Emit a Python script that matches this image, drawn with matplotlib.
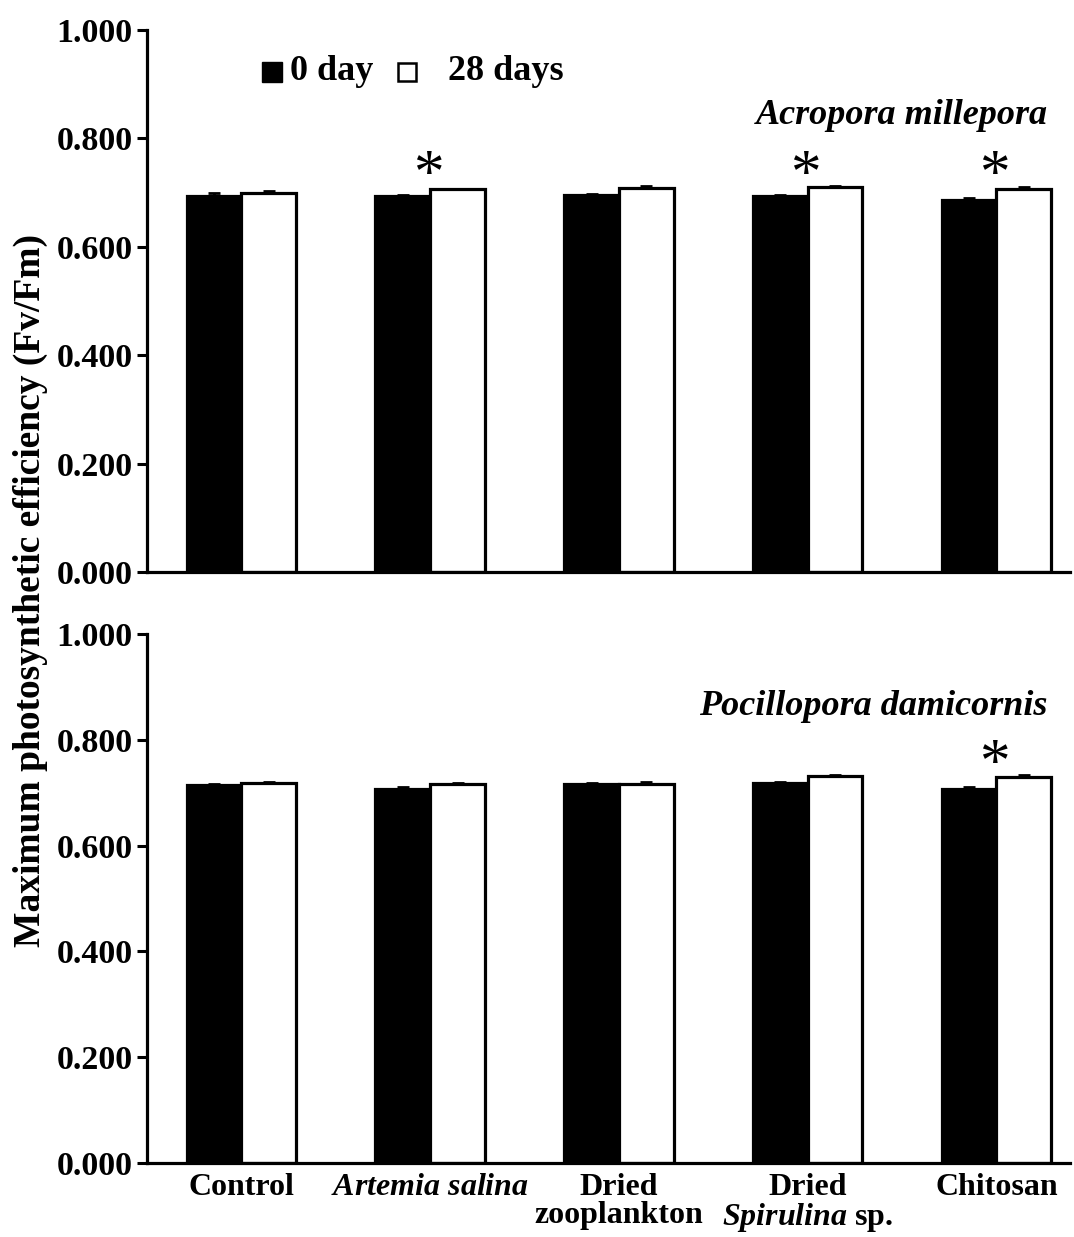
import matplotlib
matplotlib.use("Agg")
import matplotlib.pyplot as plt
import numpy as np

plt.rcParams['font.family'] = ['Liberation Serif', 'DejaVu Serif']
plt.rcParams['font.weight'] = 'bold'
plt.rcParams['mathtext.fontset'] = 'custom'
plt.rcParams['mathtext.it'] = 'Liberation Serif:italic:bold'
plt.rcParams['mathtext.rm'] = 'Liberation Serif:bold'
plt.rcParams['mathtext.bf'] = 'Liberation Serif:bold'

categories = ["Control", r"$\mathit{Artemia\ salina}$", "Dried\nzooplankton",
              "Dried\n$\\mathit{Spirulina}$ sp.", "Chitosan"]
series = ["0 day", "28 days"]

acro_day0 = [0.693, 0.694, 0.695, 0.693, 0.686]
acro_day0_err = [0.006, 0.002, 0.003, 0.002, 0.004]
acro_day28 = [0.699, 0.706, 0.709, 0.710, 0.707]
acro_day28_err = [0.004, 0.001, 0.004, 0.002, 0.003]
acro_sig = [False, True, False, True, True]

poci_day0 = [0.714, 0.707, 0.716, 0.719, 0.707]
poci_day0_err = [0.002, 0.003, 0.002, 0.001, 0.004]
poci_day28 = [0.719, 0.717, 0.716, 0.731, 0.730]
poci_day28_err = [0.002, 0.002, 0.004, 0.003, 0.003]
poci_sig = [False, False, False, False, True]

yticks = [0.0, 0.2, 0.4, 0.6, 0.8, 1.0]

fig = plt.figure(figsize=(10.74, 12.37), dpi=100)
ax1 = fig.add_axes([0.1369, 0.5376, 0.8594, 0.4382])
ax2 = fig.add_axes([0.1369, 0.0598, 0.8594, 0.4277])

x = np.arange(len(categories))
w = 0.29
lw = 2.3

def draw(ax, d0, e0, d28, e28, sig, title, title_y, sig_y):
    ax.bar(x - w/2, d0, w, color='black', edgecolor='black', linewidth=lw, zorder=2)
    ax.bar(x + w/2, d28, w, color='white', edgecolor='black', linewidth=lw, zorder=2)
    ax.errorbar(x - w/2, d0, yerr=[np.zeros(len(x)), e0], fmt='none', ecolor='black',
                elinewidth=2, capsize=4.5, capthick=2, zorder=1)
    ax.errorbar(x + w/2, d28, yerr=[np.zeros(len(x)), e28], fmt='none', ecolor='black',
                elinewidth=2, capsize=4.5, capthick=2, zorder=1)
    for i, s in enumerate(sig):
        if s:
            ax.annotate("*", xy=(x[i] - 0.01, sig_y), xytext=(0, -20.5),
                        textcoords='offset points', ha='center', va='baseline',
                        fontsize=44, fontweight='normal')
    ax.set_ylim(0, 1.0)
    ax.set_xlim(-0.5, 4.39)
    ax.set_yticks(yticks)
    ax.set_yticklabels([f"{t:.3f}" for t in yticks], fontsize=24.5, fontweight='bold')
    ax.spines['top'].set_visible(False)
    ax.spines['right'].set_visible(False)
    ax.spines['left'].set_linewidth(2.3)
    ax.spines['bottom'].set_linewidth(2.3)
    ax.tick_params(axis='y', direction='out', length=7.2, width=2.2, pad=3)
    ax.tick_params(axis='x', length=0)
    ax.text(0.976, title_y, title, transform=ax.transAxes, ha='right', va='center',
            fontsize=26, fontstyle='italic', fontweight='bold')

draw(ax1, acro_day0, acro_day0_err, acro_day28, acro_day28_err, acro_sig,
     "Acropora millepora", 0.843, 0.756)
draw(ax2, poci_day0, poci_day0_err, poci_day28, poci_day28_err, poci_sig,
     "Pocillopora damicornis", 0.862, 0.777)

ax1.set_xticks(x)
ax1.set_xticklabels([])
ax2.set_xticks(x)
ax2.set_xticklabels(categories, fontsize=23, fontweight='bold', linespacing=0.95)
ax2.tick_params(axis='x', pad=7)

# legend (drawn manually to mimic spacing)
leg_y = 0.9225
ax1.plot([0.1354], [leg_y], marker='s', markersize=14.4, color='black',
         transform=ax1.transAxes, clip_on=False, linestyle='none')
ax1.plot([0.2817], [leg_y], marker='s', markersize=12.5, markerfacecolor='white',
         markeredgecolor='black', markeredgewidth=1.8,
         transform=ax1.transAxes, clip_on=False, linestyle='none')
ax1.text(0.155, leg_y, series[0], transform=ax1.transAxes, ha='left', va='center',
         fontsize=26, fontweight='bold')
ax1.text(0.3261, leg_y, series[1], transform=ax1.transAxes, ha='left', va='center',
         fontsize=26, fontweight='bold')

fig.text(0.028, 0.523, "Maximum photosynthetic efficiency (Fv/Fm)", rotation=90,
         ha='center', va='center', fontsize=27, fontweight='bold')

fig.savefig("out.png", dpi=100)
